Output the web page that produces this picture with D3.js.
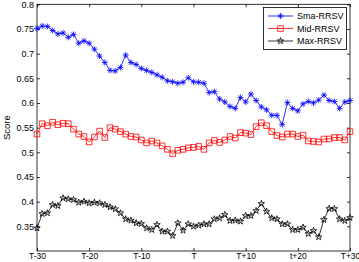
<!DOCTYPE html>
<html><head><meta charset="utf-8">
<script src="https://cdn.jsdelivr.net/npm/d3@7"></script>
<style>body{margin:0;background:#fff}svg{display:block}text{font-family:"Liberation Sans",Arial,sans-serif}</style>
</head><body><svg id="c" width="359" height="262"></svg>
<script>
const offsets = d3.range(-30, 31);
const xTickValues = [-30, -20, -10, 0, 10, 20, 30];
const xTickLabels = ["T-30", "T-20", "T-10", "T", "T+10", "t+20", "T+30"];
const yTickValues = [0.35, 0.4, 0.45, 0.5, 0.55, 0.6, 0.65, 0.7, 0.75, 0.8];
const seriesNames = ["Sma-RRSV", "Mid-RRSV", "Max-RRSV"];
const smaValues = [0.751,0.756,0.755,0.747,0.740,0.742,0.733,0.739,0.721,0.726,0.721,0.709,0.695,0.682,0.666,0.665,0.672,0.697,0.682,0.678,0.670,0.666,0.662,0.657,0.652,0.645,0.643,0.640,0.642,0.651,0.643,0.642,0.640,0.621,0.623,0.608,0.602,0.593,0.589,0.611,0.602,0.618,0.605,0.592,0.586,0.575,0.575,0.556,0.601,0.589,0.584,0.598,0.603,0.600,0.606,0.616,0.605,0.603,0.589,0.602,0.605];
const midValues = [0.537,0.558,0.554,0.561,0.556,0.559,0.558,0.547,0.537,0.532,0.521,0.531,0.543,0.530,0.550,0.547,0.542,0.537,0.532,0.531,0.525,0.519,0.523,0.519,0.513,0.506,0.497,0.504,0.506,0.509,0.510,0.512,0.506,0.519,0.524,0.520,0.525,0.532,0.529,0.540,0.539,0.536,0.552,0.560,0.554,0.542,0.534,0.531,0.537,0.537,0.532,0.535,0.523,0.522,0.521,0.527,0.527,0.530,0.530,0.525,0.542];
const maxValues = [0.3465,0.3755,0.3769,0.3937,0.3917,0.4072,0.4052,0.4038,0.3984,0.4005,0.3971,0.3984,0.3971,0.3937,0.389,0.385,0.3769,0.3647,0.362,0.3566,0.3553,0.3465,0.3431,0.3532,0.3398,0.3398,0.331,0.3566,0.3418,0.3546,0.3499,0.352,0.3546,0.3546,0.3647,0.3667,0.3735,0.3613,0.362,0.36,0.3714,0.3714,0.3816,0.3958,0.3802,0.3667,0.3647,0.3546,0.3546,0.3431,0.3431,0.3478,0.335,0.3411,0.3283,0.3634,0.3857,0.3857,0.3647,0.3613,0.3674];
const colors = ["#0000ff", "#ff0000", "#000000"];

const svg = d3.select("#c");
const L = 37, R = 350, T = 4.3, B = 251;
const x = d3.scaleLinear().domain([-30, 30]).range([L, R]);
const y = d3.scaleLinear().domain([0.3, 0.8]).range([B, T]);
const fs = "9px";

// axes box
const g = svg.append("g");
g.append("rect").attr("x", L).attr("y", T).attr("width", R - L).attr("height", B - T)
  .attr("fill", "#fff").attr("stroke", "#000").attr("stroke-width", 0.8);

const xb = g.append("g").attr("transform", `translate(0,${B})`)
  .call(d3.axisBottom(x).tickValues(xTickValues).tickSizeInner(-3).tickSizeOuter(0).tickPadding(2).tickFormat((d,i)=>xTickLabels[i]));
const xt = g.append("g").attr("transform", `translate(0,${T})`)
  .call(d3.axisTop(x).tickValues(xTickValues).tickSizeInner(-3).tickSizeOuter(0).tickFormat(""));
const yl = g.append("g").attr("transform", `translate(${L},0)`)
  .call(d3.axisLeft(y).tickValues(yTickValues).tickSizeInner(-3).tickSizeOuter(0).tickPadding(3).tickFormat(d3.format("")));
const yr = g.append("g").attr("transform", `translate(${R},0)`)
  .call(d3.axisRight(y).tickValues(yTickValues).tickSizeInner(-3).tickSizeOuter(0).tickFormat(""));
[xb, xt, yl, yr].forEach(a => {
  a.select(".domain").remove();
  a.selectAll("line").attr("stroke", "#000").attr("stroke-width", 0.8);
  a.selectAll("text").attr("font-size", fs).attr("fill", "#000").attr("font-family", '"Liberation Sans",Arial,sans-serif');
});
xb.selectAll("text").attr("font-size", "8.5px");

svg.append("text").attr("transform", `translate(10,${(T + B) / 2}) rotate(-90)`)
  .attr("text-anchor", "middle").attr("font-size", "9.5px").text("Score");

// markers
function asterisk(s) {
  const d = s * 0.72;
  return `M${-s},0L${s},0M0,${-s}L0,${s}M${-d},${-d}L${d},${d}M${-d},${d}L${d},${-d}`;
}
const square = s => `M${-s},${-s}L${s},${-s}L${s},${s}L${-s},${s}Z`;
const star = d3.symbol().type(d3.symbolStar).size(13)();
const markerPaths = [asterisk(3), square(2.8), star];

const allSeries = [smaValues, midValues, maxValues];
const line = d3.line().x((d, i) => x(offsets[i])).y(d => y(d));
allSeries.forEach((vals, k) => {
  svg.append("path").attr("d", line(vals)).attr("fill", "none")
    .attr("stroke", colors[k]).attr("stroke-width", 0.8);
  svg.append("g").selectAll("path").data(vals).join("path")
    .attr("transform", (d, i) => `translate(${x(offsets[i])},${y(d)})`)
    .attr("d", markerPaths[k]).attr("fill", "none")
    .attr("stroke", colors[k]).attr("stroke-width", 0.8);
});

// legend
const lg = svg.append("g");
lg.append("rect").attr("x", 263.5).attr("y", 7.5).attr("width", 83).attr("height", 42)
  .attr("fill", "#fff").attr("stroke", "#000").attr("stroke-width", 0.8);
seriesNames.forEach((n, k) => {
  const yy = 16 + k * 12.5;
  lg.append("line").attr("x1", 268).attr("x2", 293).attr("y1", yy).attr("y2", yy)
    .attr("stroke", colors[k]).attr("stroke-width", 0.8);
  lg.append("path").attr("transform", `translate(280.5,${yy})`).attr("d", markerPaths[k])
    .attr("fill", "none").attr("stroke", colors[k]).attr("stroke-width", 0.8);
  lg.append("text").attr("x", 297).attr("y", yy + 3.2).attr("font-size", fs).text(n);
});
</script></body></html>
